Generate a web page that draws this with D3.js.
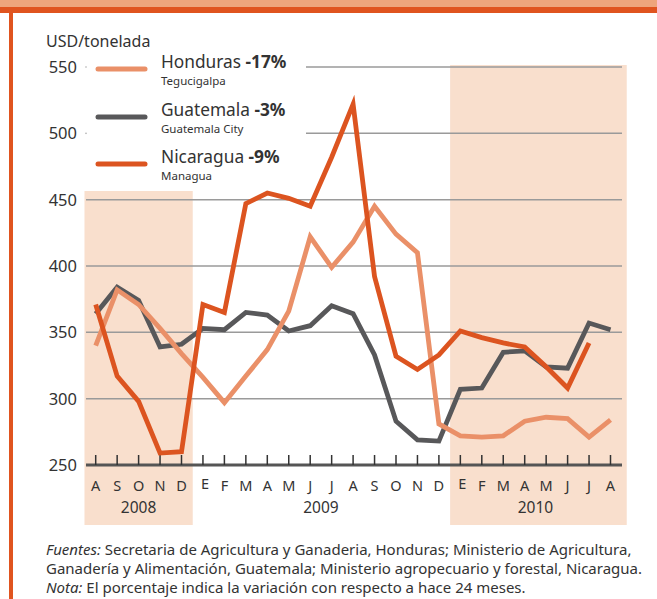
<!DOCTYPE html>
<html>
<head>
<meta charset="utf-8">
<script src="https://cdn.jsdelivr.net/npm/d3@7"></script>
<style>
  body { margin: 0; background: #fff; }
  svg { display: block; font-family: "Noto Sans", "Open Sans", sans-serif; }
</style>
</head>
<body>
<svg id="chart"></svg>
<script>
// data, Aug 2008 .. Aug 2010
var months = ["A","S","O","N","D","E","F","M","A","M","J","J","A","S","O","N","D","E","F","M","A","M","J","J","A"];
var years = [{label: "2008", from: 0, to: 4}, {label: "2009", from: 5, to: 16}, {label: "2010", from: 17, to: 24}];
var yTicks = [250, 300, 350, 400, 450, 500, 550];

var honduras  = [340, 382, 371, 353, 334, 316, 297, 317, 337, 366, 422, 399, 418, 445, 424, 410, 281, 272, 271, 272, 283, 286, 285, 271, 284];
var guatemala = [364, 384, 374, 339, 341, 353, 352, 365, 363, 351, 355, 370, 364, 333, 283, 269, 268, 307, 308, 335, 336, 324, 323, 357, 352];
var nicaragua = [371, 317, 298, 259, 260, 371, 365, 447, 455, 451, 445, 482, 522, 392, 332, 322, 333, 351, 346, 342, 339, 324, 308, 342, null];

var series = [
  {name: "Honduras", pct: "-17%", city: "Tegucigalpa", values: honduras, color: "#ea9068"},
  {name: "Guatemala", pct: "-3%", city: "Guatemala City", values: guatemala, color: "#58585a"},
  {name: "Nicaragua", pct: "-9%", city: "Managua", values: nicaragua, color: "#dc5420"}
];

var width = 657, height = 599;
var svg = d3.select("#chart").attr("width", width).attr("height", height);

// frame
svg.append("rect").attr("x", 0).attr("y", 0).attr("width", width).attr("height", 8).attr("fill", "#eea57c");
svg.append("rect").attr("x", 0).attr("y", 7).attr("width", width).attr("height", 6).attr("fill", "#e0541f");
svg.append("rect").attr("x", 9).attr("y", 7).attr("width", 4).attr("height", height).attr("fill", "#e0541f");

// scales
var x = d3.scaleLinear().domain([0, months.length - 1]).range([95.7, 610.5]);
var y = d3.scaleLinear().domain([250, 550]).range([465, 67]);
var step = x(1) - x(0);

// shaded periods
svg.append("rect")
  .attr("x", x(0) - step / 2 - 0.5).attr("y", 191)
  .attr("width", x(4) - x(0) + step + 1).attr("height", 525 - 191)
  .attr("fill", "#f9dfcd");
svg.append("rect")
  .attr("x", x(17) - step / 2 + 0.5).attr("y", 65)
  .attr("width", x(24) - x(17) + step + 5).attr("height", 525 - 65)
  .attr("fill", "#f9dfcd");

// grid lines
var gridLeft = 86, gridRight = 622;
svg.append("g").selectAll("line")
  .data(yTicks.slice(1))
  .enter().append("line")
    .attr("x1", function(d) { return d >= 500 ? 306 : gridLeft; })
    .attr("x2", gridRight)
    .attr("y1", function(d) { return y(d); })
    .attr("y2", function(d) { return y(d); })
    .attr("stroke", "#9a9a9a")
    .attr("stroke-width", 1.5);

// little dots where the legend hides the grid
svg.append("g").selectAll("circle")
  .data([500, 550])
  .enter().append("circle")
    .attr("cx", gridLeft).attr("cy", function(d) { return y(d); })
    .attr("r", 0.8).attr("fill", "#aaa");

// y labels
svg.append("g").selectAll("text")
  .data(yTicks)
  .enter().append("text")
    .attr("x", 77)
    .attr("y", function(d) { return y(d) + 6; })
    .attr("text-anchor", "end")
    .attr("font-size", 16.5)
    .attr("fill", "#333")
    .text(function(d) { return d; });

svg.append("text")
  .attr("x", 46).attr("y", 47)
  .attr("font-size", 16).attr("fill", "#333")
  .text("USD/tonelada");

// x axis with month ticks
var xAxis = svg.append("g").attr("transform", "translate(0," + y(250) + ")");
xAxis.append("line")
  .attr("x1", gridLeft).attr("x2", gridRight)
  .attr("stroke", "#555").attr("stroke-width", 3);
xAxis.selectAll(".tick")
  .data(months)
  .enter().append("line")
    .attr("class", "tick")
    .attr("x1", function(d, i) { return x(i); })
    .attr("x2", function(d, i) { return x(i); })
    .attr("y1", -10).attr("y2", 0)
    .attr("stroke", "#333").attr("stroke-width", 1.5);
xAxis.selectAll(".mlabel")
  .data(months)
  .enter().append("text")
    .attr("class", "mlabel")
    .attr("x", function(d, i) { return x(i) + (d === "E" ? 2 : 0); })
    .attr("y", function(d) { return d === "E" ? 24 : 26; })
    .attr("text-anchor", "middle")
    .attr("font-size", 14.5)
    .attr("fill", "#333")
    .text(function(d) { return d; });
xAxis.selectAll(".ylabel")
  .data(years)
  .enter().append("text")
    .attr("class", "ylabel")
    .attr("x", function(d) { return (x(d.from) + x(d.to)) / 2; })
    .attr("y", 48)
    .attr("text-anchor", "middle")
    .attr("font-size", 15.5)
    .attr("fill", "#333")
    .text(function(d) { return d.label; });

// lines
var line = d3.line()
  .defined(function(d) { return d != null; })
  .x(function(d, i) { return x(i); })
  .y(function(d) { return y(d); });

svg.append("g").selectAll("path")
  .data([series[1], series[0], series[2]])
  .enter().append("path")
    .attr("d", function(d) { return line(d.values); })
    .attr("fill", "none")
    .attr("stroke", function(d) { return d.color; })
    .attr("stroke-width", 4.8)
    .attr("stroke-linejoin", "miter")
    .attr("stroke-linecap", "butt");

// legend
var legend = svg.append("g").selectAll("g")
  .data(series)
  .enter().append("g")
    .attr("transform", function(d, i) { return "translate(0," + [68, 116, 163][i] + ")"; });
legend.append("line")
  .attr("x1", 98).attr("x2", 145)
  .attr("y1", 1).attr("y2", 1)
  .attr("stroke", function(d) { return d.color; })
  .attr("stroke-width", 5)
  .attr("stroke-linecap", "round");
var lt = legend.append("text")
  .attr("x", 161).attr("y", 0)
  .attr("font-size", 17.3).attr("fill", "#333");
lt.append("tspan").text(function(d) { return d.name + " "; });
lt.append("tspan").attr("font-weight", "bold").text(function(d) { return d.pct; });
legend.append("text")
  .attr("x", 161).attr("y", 17)
  .attr("font-size", 11.5).attr("fill", "#333")
  .text(function(d) { return d.city; });

// notes
var notes = svg.append("g").attr("font-size", 15).attr("fill", "#333");
var n1 = notes.append("text").attr("x", 46).attr("y", 555);
n1.append("tspan").attr("font-style", "italic").text("Fuentes:");
n1.append("tspan").text(" Secretaria de Agricultura y Ganaderia, Honduras; Ministerio de Agricultura,");
notes.append("text").attr("x", 46).attr("y", 574)
  .text("Ganadería y Alimentación, Guatemala; Ministerio agropecuario y forestal, Nicaragua.");
var n3 = notes.append("text").attr("x", 46).attr("y", 593);
n3.append("tspan").attr("font-style", "italic").text("Nota:");
n3.append("tspan").text(" El porcentaje indica la variación con respecto a hace 24 meses.");
</script>
</body>
</html>
